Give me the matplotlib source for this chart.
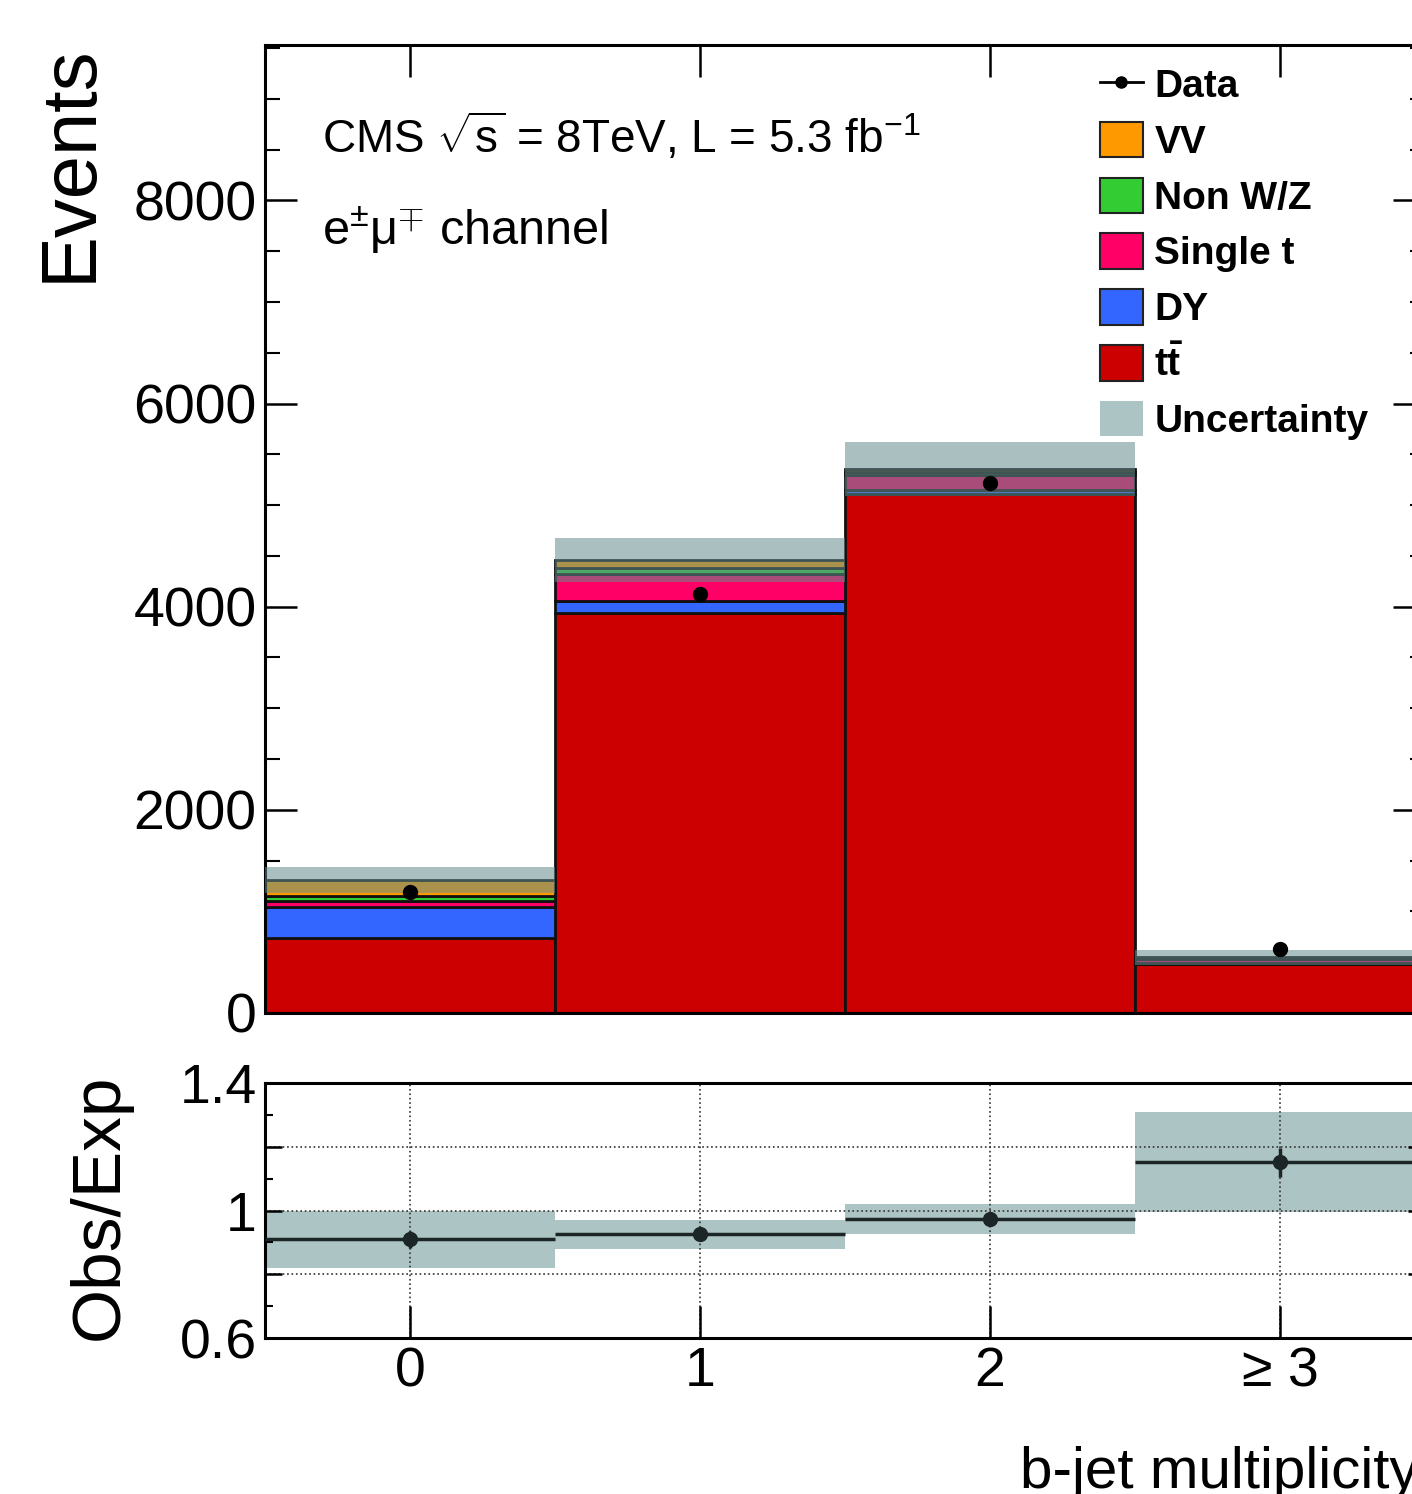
import numpy as np
import matplotlib
matplotlib.use('Agg')
import matplotlib.pyplot as plt
from matplotlib.patches import Patch
from matplotlib.lines import Line2D
from matplotlib.ticker import MultipleLocator, FixedLocator

plt.rcParams['font.family'] = ['Liberation Sans', 'DejaVu Sans']
plt.rcParams['mathtext.fontset'] = 'custom'
plt.rcParams['mathtext.rm'] = 'Liberation Sans'
plt.rcParams['mathtext.it'] = 'Liberation Sans:italic'
plt.rcParams['mathtext.bf'] = 'Liberation Sans:bold'

# b-jet multiplicity bins
bins = [0, 1, 2, 3]
bin_labels = ['0', '1', '2', '≥ 3']

# stacked expectations (bottom to top)
ttbar = [740, 3937, 5108, 480]
dy = [300, 118, 40, 15]
single_t = [60, 266, 147, 35]
non_wz = [50, 59, 30, 10]
vv = [159, 79, 29, 7]
rel_unc = [0.099, 0.048, 0.049, 0.136]

data = [1190, 4124, 5216, 630]

c_tt = '#cc0000'
c_dy = '#3366ff'
c_st = '#ff0066'
c_nwz = '#33cc33'
c_vv = '#ff9900'
c_unc = '#adc4c4'
c_unc_over = '#648c8c'

x = np.array(bins)
total = np.array(ttbar) + np.array(dy) + np.array(single_t) + np.array(non_wz) + np.array(vv)
unc = total * np.array(rel_unc)
ratio = np.array(data) / total

fig = plt.figure(figsize=(14.12, 14.94), dpi=100)
ax = fig.add_axes([0.1877, 0.3220, 0.8215, 0.6479])
rax = fig.add_axes([0.1877, 0.1044, 0.8215, 0.1707])

# stack
bottom = np.zeros(4)
for vals, col in [(ttbar, c_tt), (dy, c_dy), (single_t, c_st), (non_wz, c_nwz), (vv, c_vv)]:
    ax.bar(x, vals, width=1.0, bottom=bottom, color=col, edgecolor='#111111', linewidth=2.0, zorder=2)
    bottom = bottom + np.array(vals)

ax.bar(x, 2 * unc, width=1.0, bottom=total - unc, color=c_unc_over, alpha=0.55, linewidth=0, zorder=3)
ax.errorbar(x, data, yerr=np.sqrt(data), fmt='o', color='black', ms=10, lw=2, zorder=5)

ax.set_xlim(-0.5, 3.5)
ax.set_ylim(0, 9530)
ax.xaxis.set_major_locator(FixedLocator(bins))
ax.yaxis.set_major_locator(MultipleLocator(2000))
ax.yaxis.set_minor_locator(MultipleLocator(500))
ax.tick_params(which='both', direction='in', top=True, right=True, labelbottom=False)
ax.tick_params(which='major', length=23, width=1.8, labelsize=40, pad=6)
ax.tick_params(which='minor', length=11, width=1.5)
for sp in ax.spines.values():
    sp.set_linewidth(2.2)

ax.text(322 / 1412, 1 - 137 / 1494, r'CMS $\sqrt{\mathrm{s}}$ = 8TeV, L = 5.3 fb$^{-1}$', transform=fig.transFigure,
        fontsize=33, va='center', ha='left')
ax.text(322 / 1412, 1 - 230 / 1494, 'e$^{\\pm}$μ$^{\\mp}$ channel', transform=fig.transFigure,
        fontsize=35, va='center', ha='left')

handles = [
    Line2D([0], [0], color='black', marker='o', ms=8, lw=2),
    Patch(facecolor=c_vv, edgecolor='#222222', lw=1.5),
    Patch(facecolor=c_nwz, edgecolor='#222222', lw=1.5),
    Patch(facecolor=c_st, edgecolor='#222222', lw=1.5),
    Patch(facecolor=c_dy, edgecolor='#222222', lw=1.5),
    Patch(facecolor=c_tt, edgecolor='#222222', lw=1.5),
    Patch(facecolor=c_unc, edgecolor='none'),
]
labels = ['Data', 'VV', 'Non W/Z', 'Single t', 'DY', r'$\mathbf{t\bar{t}}$', 'Uncertainty']
ax.legend(handles, labels, loc='upper left', bbox_to_anchor=(1100 / 1412, 1 - 66 / 1494),
          bbox_transform=fig.transFigure, frameon=False, borderpad=0, borderaxespad=0,
          prop={'size': 28, 'weight': 'bold'}, handlelength=1.1, handleheight=1.03,
          handletextpad=0.3, labelspacing=0.43)

# ratio panel
rax.bar(x, 2 * ratio * np.array(rel_unc), width=1.0, bottom=ratio * (1 - np.array(rel_unc)),
        color=c_unc, linewidth=0, zorder=1)
rax.errorbar(x, ratio, xerr=0.5, yerr=np.sqrt(data) / total, fmt='o', color='#1c2626', ms=10, lw=2.5, zorder=4)
rax.set_xlim(-0.5, 3.5)
rax.set_ylim(0.6, 1.4)
rax.set_xticks(bins)
rax.set_xticklabels(bin_labels)
rax.set_yticks([0.6, 0.8, 1.0, 1.2, 1.4])
rax.set_yticklabels(['0.6', '', '1', '', '1.4'])
rax.yaxis.set_minor_locator(FixedLocator([0.7, 0.9, 1.1, 1.3]))
rax.grid(True, which='major', linestyle=':', color='#333333', lw=1.2, zorder=2)
rax.tick_params(which='both', direction='in', right=True)
rax.tick_params(which='major', length=12, width=1.8, labelsize=40, pad=6)
rax.tick_params(axis='x', which='major', length=23)
rax.tick_params(which='minor', length=6, width=1.5)
for sp in rax.spines.values():
    sp.set_linewidth(2.2)

fig.text(70 / 1412, 1 - 45 / 1494, 'Events', rotation=90, ha='center', va='top', fontsize=56)
fig.text(100 / 1412, 1 - 1207 / 1494, 'Obs/Exp', rotation=90, ha='center', va='center', fontsize=50)
fig.text(1020 / 1412, 1 - 1488 / 1494, 'b-jet multiplicity', ha='left', va='baseline', fontsize=42)

fig.savefig('out.png', dpi=100)
